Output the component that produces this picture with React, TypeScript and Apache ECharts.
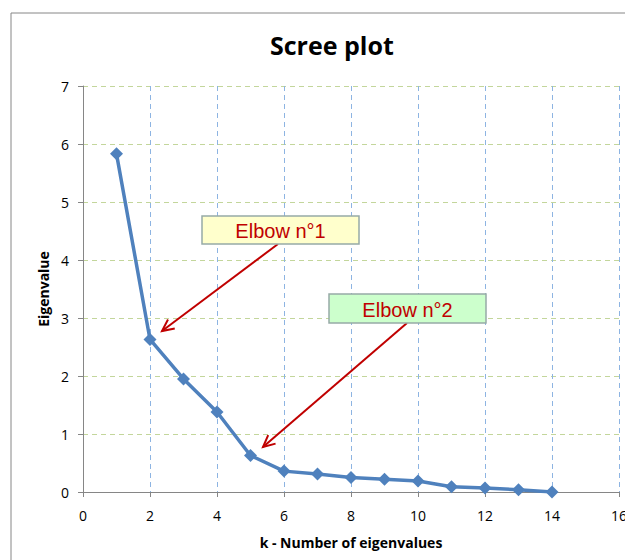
import React, { useEffect, useRef } from "react";
import * as echarts from "echarts";

const kValues = [1, 2, 3, 4, 5, 6, 7, 8, 9, 10, 11, 12, 13, 14];
const eigenvalues = [5.83, 2.63, 1.95, 1.38, 0.63, 0.36, 0.31, 0.25, 0.22, 0.19, 0.09, 0.07, 0.04, 0.0];
const titleText = "Scree plot";
const xAxisName = "k - Number of eigenvalues";
const yAxisName = "Eigenvalue";
const annotations = ["Elbow n°1", "Elbow n°2"];

function arrow(x1: number, y1: number, x2: number, y2: number, color: string) {
  const ang = Math.atan2(y2 - y1, x2 - x1);
  const len = 13;
  const spread = Math.PI / 7;
  const a1 = ang + Math.PI - spread;
  const a2 = ang + Math.PI + spread;
  return [
    {
      type: "line",
      shape: { x1, y1, x2, y2 },
      style: { stroke: color, lineWidth: 2 },
      z: 100,
    },
    {
      type: "polyline",
      shape: {
        points: [
          [x2 + len * Math.cos(a1), y2 + len * Math.sin(a1)],
          [x2, y2],
          [x2 + len * Math.cos(a2), y2 + len * Math.sin(a2)],
        ],
      },
      style: { stroke: color, lineWidth: 2, fill: null },
      z: 100,
    },
  ];
}

function box(x: number, y: number, w: number, h: number, fill: string, text: string) {
  return [
    {
      type: "rect",
      shape: { x, y, width: w, height: h },
      style: { fill, stroke: "#97ABA6", lineWidth: 1.5 },
      z: 100,
    },
    {
      type: "text",
      x: x + w / 2,
      y: y + h / 2 + 1,
      style: {
        text,
        fill: "#C00000",
        font: '20px "Liberation Sans", Arial, sans-serif',
        align: "center",
        verticalAlign: "middle",
      },
      z: 101,
    },
  ];
}

export default function App() {
  const ref = useRef<HTMLDivElement>(null);
  useEffect(() => {
    if (!ref.current) return;
    const chart = echarts.init(ref.current, null, { renderer: "svg" });
    const red = "#C00000";
    const axisFont = '"Open Sans", "Noto Sans", sans-serif';
    chart.setOption({
      animation: false,
      backgroundColor: "#fff",
      title: {
        text: titleText,
        left: 265,
        top: 27,
        textStyle: { fontFamily: axisFont, fontWeight: "bold", fontSize: 25, color: "#000" },
      },
      grid: { left: 83, right: 14, top: 86, bottom: 68 },
      xAxis: {
        type: "value",
        min: 0,
        max: 16,
        interval: 2,
        name: xAxisName,
        nameLocation: "middle",
        nameGap: 43,
        nameTextStyle: { fontFamily: axisFont, fontWeight: "bold", fontSize: 14, color: "#000" },
        axisLine: { show: true, onZero: false, lineStyle: { color: "#868686", width: 1 } },
        axisTick: { show: true, length: 5, lineStyle: { color: "#868686" } },
        axisLabel: { fontFamily: axisFont, fontSize: 14, color: "#000", margin: 16 },
        splitLine: { show: true, lineStyle: { color: "#8DB4E2", type: [5, 4], width: 1 } },
      },
      yAxis: {
        type: "value",
        min: 0,
        max: 7,
        interval: 1,
        name: yAxisName,
        nameLocation: "middle",
        nameGap: 32,
        nameRotate: 90,
        nameTextStyle: { fontFamily: axisFont, fontWeight: "bold", fontSize: 14, color: "#000" },
        axisLine: { show: true, lineStyle: { color: "#868686", width: 1 } },
        axisTick: { show: true, length: 5, lineStyle: { color: "#868686" } },
        axisLabel: { fontFamily: axisFont, fontSize: 14, color: "#000", margin: 14 },
        splitLine: { show: true, lineStyle: { color: "#C3D69B", type: [5, 4], width: 1 } },
      },
      series: [
        {
          type: "line",
          data: kValues.map((k, i) => [k, eigenvalues[i]]),
          symbol: "diamond",
          symbolSize: 13,
          showSymbol: true,
          lineStyle: { color: "#4F81BD", width: 3.5 },
          itemStyle: { color: "#4F81BD" },
          z: 5,
        },
      ],
      graphic: [
        {
          type: "rect",
          shape: { x: 11, y: 13, width: 700, height: 700 },
          style: { fill: null, stroke: "#868686", lineWidth: 1 },
          silent: true,
          z: -1,
        },
        ...arrow(278, 244, 162, 331, red),
        ...arrow(407, 323, 263, 447, red),
        ...box(202, 216, 157, 28, "#FFFFCC", annotations[0]),
        ...box(329, 294, 157, 29, "#CCFFCC", annotations[1]),
      ],
    });
    return () => chart.dispose();
  }, []);
  return <div ref={ref} style={{ width: 633, height: 560, marginLeft: -8, marginTop: -8 }} />;
}
